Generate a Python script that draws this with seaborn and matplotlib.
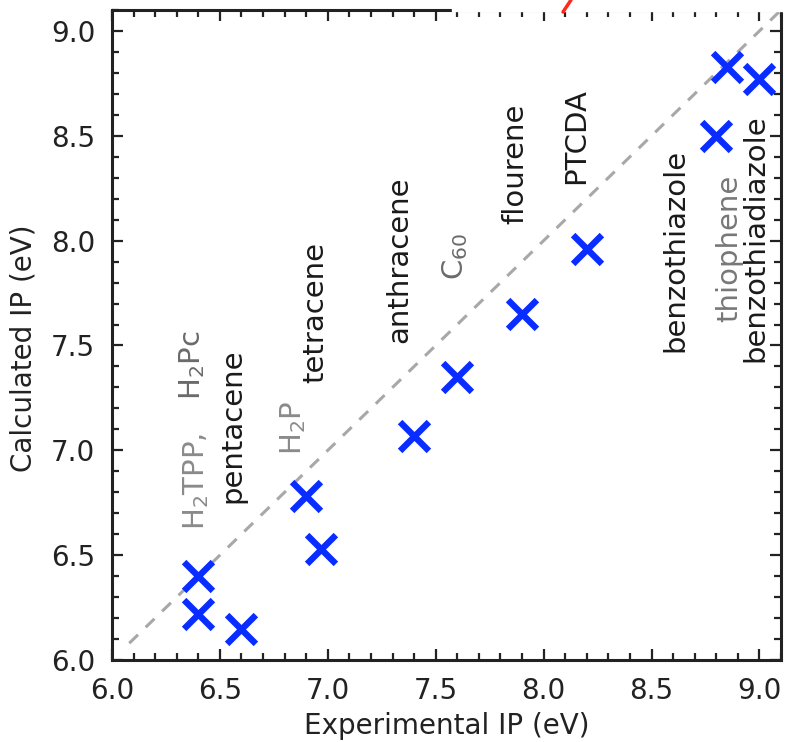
"""Calculated vs experimental ionisation potentials (parity plot)."""

import matplotlib
matplotlib.use("Agg")
import matplotlib.pyplot as plt
from matplotlib.lines import Line2D
from matplotlib.patches import Rectangle
from matplotlib.ticker import MultipleLocator, FormatStrFormatter
import pandas as pd
import seaborn as sns

# Measured points (eV).
exp_ip = [6.40, 6.40, 6.60, 6.90, 6.97, 7.40, 7.60, 7.90, 8.20, 8.80, 8.85, 9.00]
calc_ip = [6.40, 6.22, 6.15, 6.78, 6.53, 7.07, 7.35, 7.65, 7.96, 8.50, 8.83, 8.77]

# Parity line y = x.
diag = [6.08, 9.10]

# Molecule labels: text, anchor (bottom of rotated text), colour.
label_text = ["H$_2$TPP,", "H$_2$Pc", "pentacene", "H$_2$P", "tetracene",
              "anthracene", "C$_{60}$", "flourene", "PTCDA", "benzothiazole",
              "thiophene", "benzothiadiazole"]
label_x = [6.39, 6.37, 6.56, 6.84, 6.94, 7.33, 7.59, 7.87, 8.15, 8.61, 8.86, 8.98]
label_y = [6.62, 7.24, 6.75, 6.98, 7.32, 7.51, 7.81, 8.08, 8.27, 7.47, 7.61, 7.42]
label_color = ["#8a8a8a", "#6a6a6a", "#1a1a1a", "#8a8a8a", "#1a1a1a",
               "#1a1a1a", "#6a6a6a", "#1a1a1a", "#1a1a1a", "#1a1a1a",
               "#777777", "#1a1a1a"]

sns.set_style("ticks")
plt.rcParams["font.family"] = ["DejaVu Sans"]

df = pd.DataFrame({"exp": exp_ip, "calc": calc_ip})

fig = plt.figure(figsize=(7.88, 7.42), dpi=100)
ax = fig.add_axes([0.1421, 0.1105, 0.849, 0.876])

sns.lineplot(x=diag, y=diag, ax=ax, color="#a8a8a8", lw=2.2,
             dashes=(4, 3.5), zorder=1)
sns.scatterplot(data=df, x="exp", y="calc", ax=ax, marker="x", s=430,
                color="#0a2dff", linewidth=4.6, zorder=3)

for t, x, y, c in zip(label_text, label_x, label_y, label_color):
    ax.text(x, y, t, rotation=90, ha="center", va="bottom", fontsize=21,
            color=c)

ax.set_xlim(6.0, 9.1)
ax.set_ylim(6.0, 9.1)
ax.xaxis.set_major_locator(MultipleLocator(0.5))
ax.yaxis.set_major_locator(MultipleLocator(0.5))
ax.xaxis.set_minor_locator(MultipleLocator(0.1))
ax.yaxis.set_minor_locator(MultipleLocator(0.1))
ax.xaxis.set_major_formatter(FormatStrFormatter("%.1f"))
ax.yaxis.set_major_formatter(FormatStrFormatter("%.1f"))
ax.tick_params(which="both", direction="in", top=True, right=True,
               width=1.6, color="#222222", labelsize=20, labelcolor="#222222")
ax.tick_params(which="major", length=8, pad=12)
ax.tick_params(which="minor", length=5)
for s in ax.spines.values():
    s.set_linewidth(2.2)
    s.set_color("#222222")

ax.set_xlabel("Experimental IP (eV)", fontsize=20, color="#222222", labelpad=5)
ax.set_ylabel("Calculated IP (eV)", fontsize=20, color="#222222")
ax.yaxis.set_label_coords(-0.112, 0.48)

# Crop artefact of the source figure: white patch over the top edge, red stroke.
fig.add_artist(Rectangle((452 / 788, 1 - 11 / 742), 336 / 788, 11 / 742,
                         transform=fig.transFigure, color="white", zorder=10))
fig.add_artist(Line2D([563 / 788, 571 / 788], [1 - 12 / 742, 1.0],
                      transform=fig.transFigure, color="#ff2a1a", lw=2.5,
                      zorder=11))

fig.savefig("out.png", dpi=100)
